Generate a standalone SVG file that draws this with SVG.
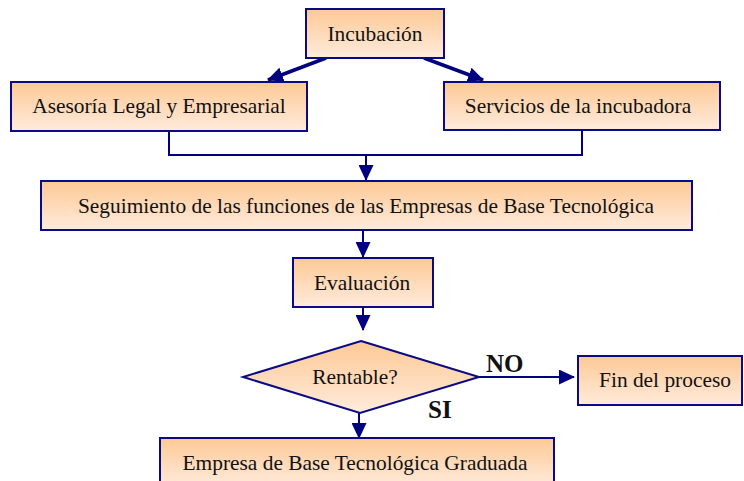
<svg xmlns="http://www.w3.org/2000/svg" width="744" height="481" viewBox="0 0 744 481">
  <defs>
    <linearGradient id="peach" x1="0" y1="0" x2="0" y2="1">
      <stop offset="0" stop-color="#FDC995"/>
      <stop offset="1" stop-color="#FFEBDC"/>
    </linearGradient>
    <marker id="ah" markerUnits="userSpaceOnUse" markerWidth="16" markerHeight="15" refX="15" refY="7.5" orient="auto">
      <path d="M0,0 L16,7.5 L0,15 z" fill="#000080"/>
    </marker>
    <style>
      .box { fill: url(#peach); stroke: #0A0A85; stroke-width: 2; }
      .lbl { font-family: "Liberation Serif", "Times New Roman", serif; font-size: 21.4px; fill: #111; text-anchor: middle; }
      .yn { font-family: "Liberation Serif", "Times New Roman", serif; font-size: 25px; font-weight: bold; fill: #111; }
      .conn { fill: none; stroke: #000080; stroke-width: 2; }
      .thick { stroke-width: 3.5; }
    </style>
  </defs>
  <rect width="744" height="481" fill="#ffffff"/>

  <g id="connectors">
    <line class="conn thick" x1="326" y1="58" x2="268" y2="80" marker-end="url(#ah)"/>
    <line class="conn thick" x1="424" y1="58" x2="483" y2="80" marker-end="url(#ah)"/>
    <polyline class="conn" points="169,131 169,155 582,155 582,130"/>
    <line class="conn" x1="366" y1="155" x2="366" y2="180" marker-end="url(#ah)"/>
    <line class="conn" x1="363" y1="230" x2="363" y2="257" marker-end="url(#ah)"/>
    <line class="conn" x1="363" y1="307" x2="363" y2="330" marker-end="url(#ah)"/>
    <line class="conn" x1="479" y1="377" x2="574" y2="377" marker-end="url(#ah)"/>
    <line class="conn" x1="359" y1="413" x2="359" y2="438" marker-end="url(#ah)"/>
    <text class="yn" x="486" y="372">NO</text>
    <text class="yn" x="428" y="418">SI</text>
  </g>

  <g id="incubacion">
    <rect class="box" x="306" y="9" width="138" height="49"/>
    <text class="lbl" x="375" y="41">Incubación</text>
  </g>
  <g id="asesoria">
    <rect class="box" x="11" y="82" width="296" height="49"/>
    <text class="lbl" x="159" y="113">Asesoría Legal y Empresarial</text>
  </g>
  <g id="servicios">
    <rect class="box" x="444" y="82" width="276" height="48"/>
    <text class="lbl" x="578" y="113">Servicios de la incubadora</text>
  </g>
  <g id="seguimiento">
    <rect class="box" x="41" y="181" width="651" height="49"/>
    <text class="lbl" x="366" y="213">Seguimiento de las funciones de las Empresas de Base Tecnológica</text>
  </g>
  <g id="evaluacion">
    <rect class="box" x="293" y="258" width="140" height="49"/>
    <text class="lbl" x="362" y="290">Evaluación</text>
  </g>
  <g id="rentable">
    <polygon class="box" points="361,341 479,377 360,413 243,377"/>
    <text class="lbl" x="355" y="384">Rentable?</text>
  </g>
  <g id="fin">
    <rect class="box" x="578" y="356" width="164" height="49"/>
    <text class="lbl" x="665" y="387">Fin del proceso</text>
  </g>
  <g id="graduada">
    <rect class="box" x="160" y="438" width="394" height="49"/>
    <text class="lbl" x="355" y="470">Empresa de Base Tecnológica Graduada</text>
  </g>
</svg>
